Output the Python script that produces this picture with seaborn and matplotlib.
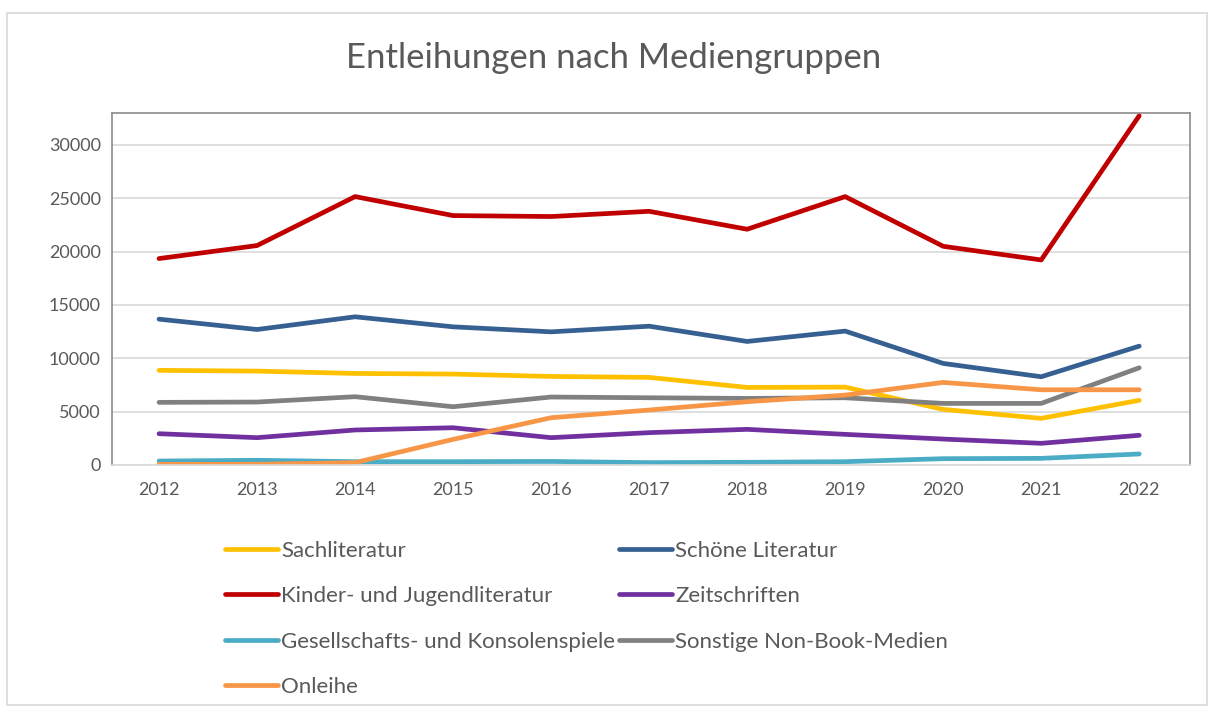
import pandas as pd
import seaborn as sns
import matplotlib
import matplotlib.pyplot as plt
from matplotlib.patches import Rectangle
matplotlib.use('Agg')

# Values
years = ['2012', '2013', '2014', '2015', '2016', '2017', '2018', '2019', '2020', '2021', '2022']
sachliteratur = [8870, 8800, 8580, 8520, 8300, 8210, 7270, 7300, 5210, 4370, 6060]
schoene_literatur = [13670, 12700, 13890, 12950, 12480, 13010, 11580, 12550, 9520, 8270, 11140]
kinder_jugend = [19350, 20570, 25160, 23380, 23290, 23780, 22100, 25160, 20500, 19220, 32740]
zeitschriften = [2930, 2560, 3280, 3490, 2560, 3030, 3340, 2870, 2430, 2030, 2780]
spiele = [370, 440, 310, 310, 330, 220, 250, 310, 590, 620, 1030]
non_book = [5870, 5900, 6400, 5460, 6370, 6300, 6240, 6300, 5770, 5770, 9110]
onleihe = [60, 60, 220, 2400, 4430, 5150, 5930, 6550, 7740, 7050, 7050]

series_names = ['Sachliteratur', 'Schöne Literatur', 'Kinder- und Jugendliteratur', 'Zeitschriften',
                'Gesellschafts- und Konsolenspiele', 'Sonstige Non-Book-Medien', 'Onleihe']
series_values = [sachliteratur, schoene_literatur, kinder_jugend, zeitschriften, spiele, non_book, onleihe]
colors = ['#FFC000', '#376092', '#C00000', '#7030A0', '#4BACC6', '#808080', '#F79646']

# Long-form table for seaborn
rows = []
for name, values in zip(series_names, series_values):
    for i, (year, v) in enumerate(zip(years, values)):
        rows.append({'pos': i, 'year': year, 'Mediengruppe': name, 'Entleihungen': v})
df = pd.DataFrame(rows)

sns.set_style('white')
plt.rcParams['font.family'] = ['Lato', 'DejaVu Sans']
text_color = '#595959'

fig = plt.figure(figsize=(12.12, 7.06), dpi=100)
ax = fig.add_axes([0.0924, 0.3414, 0.8896, 0.4986])

sns.lineplot(data=df, x='pos', y='Entleihungen', hue='Mediengruppe', hue_order=series_names,
             palette=colors, linewidth=3.4, ax=ax, legend=False, solid_capstyle='round')

ax.set_xlim(-0.48, 10.52)
ax.set_ylim(0, 33000)
ax.set_yticks([0, 5000, 10000, 15000, 20000, 25000, 30000])
ax.set_xticks(range(len(years)))
ax.set_xticklabels(years)
ax.set_xlabel('')
ax.set_ylabel('')
ax.tick_params(axis='both', labelsize=13, colors=text_color, length=0)
ax.tick_params(axis='x', pad=12)
ax.tick_params(axis='y', pad=8)
ax.grid(axis='y', color='#d9d9d9', linewidth=1.2)
ax.set_axisbelow(True)
for side in ['top', 'left', 'right']:
    ax.spines[side].set_color('#8c8c8c')
    ax.spines[side].set_linewidth(1.2)
ax.spines['bottom'].set_color('#d9d9d9')
ax.spines['bottom'].set_linewidth(1.2)

fig.text(0.506, 0.918, 'Entleihungen nach Mediengruppen', ha='center', va='center',
         fontsize=25, color=text_color)

# Legend, filled column-wise so it reads row by row like the reference
handles = ax.get_lines()[:len(series_names)]
order = [0, 2, 4, 6, 1, 3, 5]
leg = fig.legend([handles[i] for i in order], [series_names[i] for i in order],
                 loc='upper left', bbox_to_anchor=(0.178, 0.247), ncol=2, frameon=False,
                 fontsize=16, handlelength=2.4, handletextpad=0.15, columnspacing=0.15,
                 labelspacing=1.15, borderaxespad=0)
for t in leg.get_texts():
    t.set_color(text_color)

# Outer chart border
fig.patches.append(Rectangle((0.006, 0.002), 0.99, 0.98, transform=fig.transFigure,
                             fill=False, edgecolor='#d9d9d9', linewidth=1.2))

plt.savefig('out.png', dpi=100)
plt.close()
